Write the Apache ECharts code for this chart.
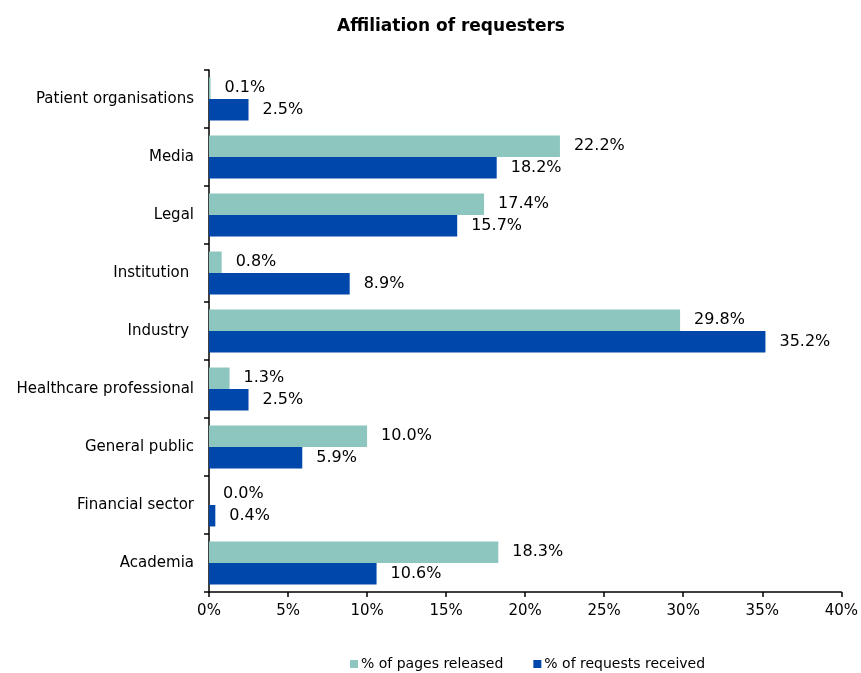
<!DOCTYPE html>
<html><head><meta charset="utf-8">
<script src="https://cdn.jsdelivr.net/npm/echarts@6/dist/echarts.min.js"></script>
<style>html,body{margin:0;padding:0;background:#fff}#c{width:861px;height:673px}</style>
</head><body><div id="c"></div>
<script>
const categories = ['Academia','Financial sector','General public','Healthcare professional','Industry ','Institution ','Legal','Media','Patient organisations'];
const pagesReleased = [18.3, 0.0, 10.0, 1.3, 29.8, 0.8, 17.4, 22.2, 0.1];
const requestsReceived = [10.6, 0.4, 5.9, 2.5, 35.2, 8.9, 15.7, 18.2, 2.5];
const xTicks = [0, 5, 10, 15, 20, 25, 30, 35, 40];

const FONT = 'DejaVu Sans';
const chart = echarts.init(document.getElementById('c'), null, {renderer: 'canvas'});
const lbl = {show: true, position: 'right', distance: 14, color: '#000', fontFamily: FONT, fontSize: 16,
  formatter: p => p.value.toFixed(1) + '%'};
chart.setOption({
  animation: false,
  backgroundColor: '#fff',
  title: {text: 'Affiliation of requesters', left: 446, top: 13, textAlign: 'center',
    textStyle: {fontFamily: FONT, fontSize: 17, fontWeight: 'bold', color: '#000'}},
  legend: {data: ['% of pages released', '% of requests received'], left: 345, top: 652,
    itemWidth: 8, itemHeight: 8, itemGap: 30, icon: 'rect',
    textStyle: {fontFamily: FONT, fontSize: 14, color: '#000', padding: [0, 0, 0, -2]}},
  grid: {left: 209, right: 18, top: 70, bottom: 81, containLabel: false},
  xAxis: {type: 'value', min: xTicks[0], max: xTicks[xTicks.length - 1], interval: 5,
    splitLine: {show: false},
    axisLine: {show: true, lineStyle: {color: '#000', width: 1.5}},
    axisTick: {show: true, length: 5, lineStyle: {color: '#000', width: 1.5}},
    axisLabel: {formatter: v => v + '%', fontFamily: FONT, fontSize: 15, color: '#000', margin: 12}},
  yAxis: {type: 'category', data: categories,
    axisLine: {show: true, lineStyle: {color: '#000', width: 1.5}},
    axisTick: {show: true, length: 5, lineStyle: {color: '#000', width: 1.5}},
    axisLabel: {fontFamily: FONT, fontSize: 15, color: '#000', margin: 15}},
  series: [
    {name: '% of pages released', type: 'bar', data: pagesReleased, barGap: '0%', barCategoryGap: '26%',
      itemStyle: {color: '#8CC6BE'}, label: lbl},
    {name: '% of requests received', type: 'bar', data: requestsReceived, barGap: '0%', barCategoryGap: '26%',
      itemStyle: {color: '#0047AB'}, label: lbl}
  ]
});
</script></body></html>
